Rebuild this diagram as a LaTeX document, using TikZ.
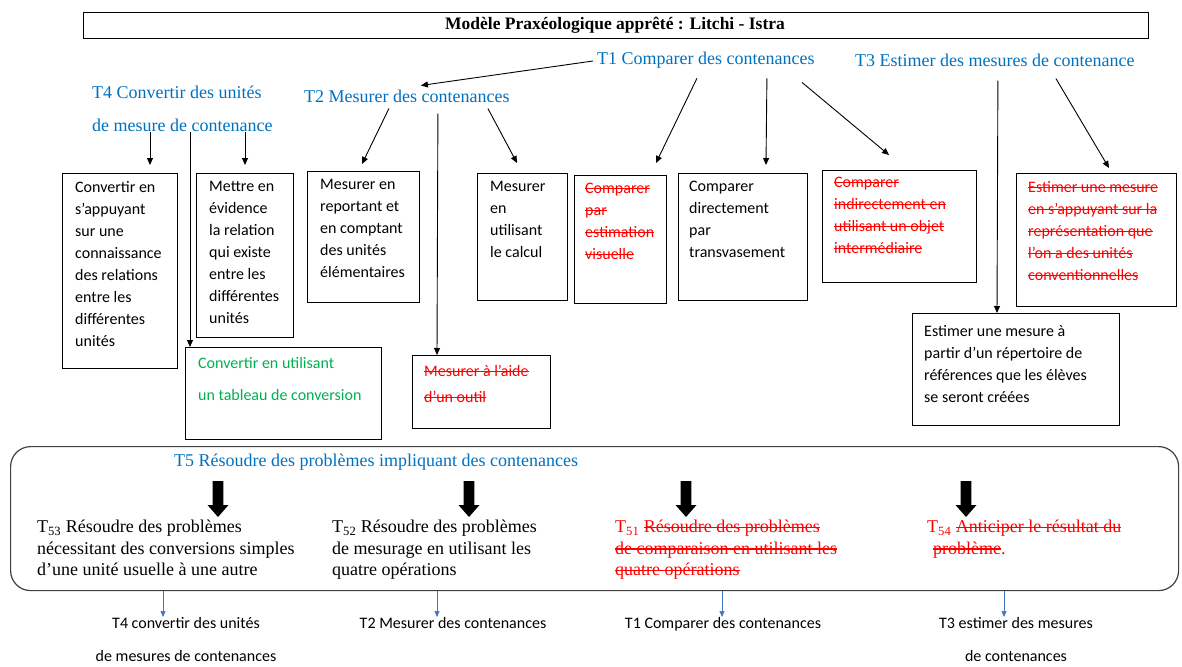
\documentclass[tikz,border=0pt]{standalone}
\usepackage{fontspec}
\setmainfont{Liberation Serif}
\newfontfamily\calib{Carlito}
\newcommand\sout[1]{\setbox0\hbox{#1}\copy0\kern-\wd0\rule[0.26em]{\wd0}{0.07em}}
\usetikzlibrary{arrows.meta,calc}
\definecolor{tblue}{RGB}{0,112,192}
\definecolor{tgreen}{RGB}{0,176,80}
\definecolor{tred}{RGB}{255,0,0}
\definecolor{abblue}{RGB}{68,114,196}
\begin{document}
\begin{tikzpicture}[x=1pt,y=-1pt,
  arr/.style={-{Triangle[length=7pt,width=6pt]}, line width=0.9pt},
  barr/.style={-{Triangle[length=6pt,width=5pt]}, line width=0.7pt, draw=abblue, fill=abblue},
  box/.style={draw, line width=1pt, inner sep=0, anchor=north west},
  txt/.style={font=\calib\fontsize{16}{22}\selectfont, inner sep=0, anchor=north west, align=left},
  lbl/.style={font=\fontsize{18}{33}\selectfont, text=tblue, inner sep=0, anchor=west, align=left},
  tfive/.style={font=\fontsize{18}{21.5}\selectfont, inner sep=0, anchor=north west, align=left},
  bot/.style={font=\calib\fontsize{16}{33}\selectfont, inner sep=0, anchor=north, align=center},
  blk/.style={fill=black}]
\useasboundingbox (0,0) rectangle (1182,666);

% title
\node[draw, line width=1pt, minimum width=1065pt, minimum height=26pt, anchor=north west, inner sep=0] (title) at (83,12) {};
\node[font=\bfseries\fontsize{17.5}{20}\selectfont, inner sep=0] (ttext) at (615,25) {Modèle Praxéologique apprêté : Litchi - Istra};

% task labels
\node[lbl] (t1) at (597,60) {T1 Comparer des contenances};
\node[lbl] (t3) at (855,60) {T3 Estimer des mesures de contenance};
\node[lbl, anchor=north west] (t4) at (92,86) {T4 Convertir des unités\\de mesure de contenance};
\node[lbl] (t2) at (304,96) {T2 Mesurer des contenances};

% boxes
\node[box, minimum width=115pt, minimum height=195pt] (b1) at (62,173) {};
\node[txt] at ($(b1.north west)+(13,8)$) {Convertir en\\s’appuyant\\sur une\\connaissance\\des relations\\entre les\\différentes\\unités};
\node[box, minimum width=97pt, minimum height=164pt] (b2) at (196,173) {};
\node[txt] at ($(b2.north west)+(13,8)$) {Mettre en\\évidence\\la relation\\qui existe\\entre les\\différentes\\unités};
\node[box, minimum width=112pt, minimum height=131pt] (b3) at (307,171) {};
\node[txt] at ($(b3.north west)+(13,8)$) {Mesurer en\\reportant et\\en comptant\\des unités\\élémentaires};
\node[box, minimum width=90pt, minimum height=127pt] (b4) at (477,173) {};
\node[txt] at ($(b4.north west)+(13,8)$) {Mesurer\\en\\utilisant\\le calcul};
\node[box, minimum width=92pt, minimum height=128pt] (b5) at (574,175) {};
\node[txt, text=tred] at ($(b5.north west)+(11,8)$) {\sout{Comparer}\\\sout{par}\\\sout{estimation}\\\sout{visuelle}};
\node[box, minimum width=129pt, minimum height=127pt] (b6) at (678,173) {};
\node[txt] at ($(b6.north west)+(11,8)$) {Comparer\\directement\\par\\transvasement};
\node[box, minimum width=154pt, minimum height=112pt] (b7) at (822,170) {};
\node[txt, text=tred] at ($(b7.north west)+(12,7)$) {\sout{Comparer}\\\sout{indirectement en}\\\sout{utilisant un objet}\\\sout{intermédiaire}};
\node[box, minimum width=160pt, minimum height=133pt] (b8) at (1016,173) {};
\node[txt, text=tred] at ($(b8.north west)+(12,8)$) {\sout{Estimer une mesure}\\\sout{en s’appuyant sur la}\\\sout{représentation que}\\\sout{l’on a des unités}\\\sout{conventionnelles}};
\node[box, minimum width=207pt, minimum height=112pt] (b9) at (912,313) {};
\node[txt] at ($(b9.north west)+(12,12)$) {Estimer une mesure à\\partir d’un répertoire de\\références que les élèves\\se seront créées};
\node[box, minimum width=196pt, minimum height=92pt] (bg) at (185,347) {};
\node[txt, text=tgreen, font=\calib\fontsize{16}{32}\selectfont] at ($(bg.north west)+(13,10)$) {Convertir en utilisant\\un tableau de conversion};
\node[box, minimum width=138pt, minimum height=73pt] (bm) at (412,355) {};
\node[txt, text=tred, font=\calib\fontsize{16}{26}\selectfont] at ($(bm.north west)+(12,10)$) {\sout{Mesurer à l’aide}\\\sout{d’un outil}};

% connectors top part
\draw[arr] ($(t1.west)+(-4,1)$) -- ($(t2.north)+(14,-4)$);
\draw[arr] ($(t2.south)+(-18,6)$) -- ($(b3.north west)+(55,-7)$);
\draw[arr] ($(t2.south)+(81,6)$) -- ($(b4.north west)+(40,-10)$);
\draw[arr] ($(t2.south)+(31,11)$) -- (bm.north -| 437,0);
\draw[arr] (t4.south -| 150,0) -- ($(b1.north west)+(88,-8)$);
\draw[arr] (t4.south -| 245,0) -- ($(b2.north west)+(49,-8)$);
\draw[arr] (t4.south -| 190,0) -- (bg.north -| 190,0);
\draw[arr] ($(t1.south)+(-9,10)$) -- ($(b5.north west)+(82,-12)$);
\draw[arr] ($(t1.south)+(61,10)$) -- ($(b6.north west)+(88,-8)$);
\draw[arr] ($(t1.south)+(96,14)$) -- ($(b7.north west)+(67,-15)$);
\draw[arr] ($(t3.south)+(3,14)$) -- (b9.north -| 997,0);
\draw[arr] ($(t3.south)+(61,12)$) -- ($(b8.north west)+(93,-5)$);

% T5 region
\node[draw=black!75, line width=1.2pt, rounded corners=20pt, minimum width=1168pt, minimum height=144pt, anchor=north west, inner sep=0] (t5box) at (10,446) {};
\node[lbl] (t5) at (174,462) {T5 Résoudre des problèmes impliquant des contenances};

\newcommand\blockarrow[1]{\fill[blk] ($(#1)+(-5.3,0)$) -- ++(10.6,0) -- ++(0,24) -- ++(5.2,0) -- ++(-10.5,12) -- ++(-10.5,-12) -- ++(5.2,0) -- cycle;}
\coordinate (a53) at (218,481);
\coordinate (a52) at (469,481);
\coordinate (a51) at (686,481);
\coordinate (a54) at (966,481);
\blockarrow{a53}
\blockarrow{a52}
\blockarrow{a51}
\blockarrow{a54}

\node[tfive] (p53) at (37,520) {T\textsubscript{53} Résoudre des problèmes\\nécessitant des conversions simples\\d’une unité usuelle à une autre};
\node[tfive] (p52) at (332,520) {T\textsubscript{52} Résoudre des problèmes\\de mesurage en utilisant les\\quatre opérations};
\node[tfive, text=tred] (p51) at (615,520) {T\textsubscript{51} \sout{Résoudre des problèmes}\\\sout{de comparaison en utilisant les}\\\sout{quatre opérations}};
\node[tfive, text=tred] (p54) at (927,520) {T\textsubscript{54} \sout{Anticiper le résultat du}\\\hspace*{6pt}\sout{problème}.};

% bottom labels
\node[bot] (l4) at (186,617) {T4 convertir des unités\\de mesures de contenances};
\node[bot] (l2) at (453,617) {T2 Mesurer des contenances};
\node[bot] (l1) at (723,617) {T1 Comparer des contenances};
\node[bot] (l3) at (1016,617) {T3 estimer des mesures\\de contenances};

\draw[barr] (t5box.south -| 163,0) -- (l4.north -| 163,0);
\draw[barr] (t5box.south -| 437,0) -- (l2.north -| 437,0);
\draw[barr] (t5box.south -| 722,0) -- (l1.north -| 722,0);
\draw[barr] (t5box.south -| 1004,0) -- (l3.north -| 1004,0);
\end{tikzpicture}
\end{document}
